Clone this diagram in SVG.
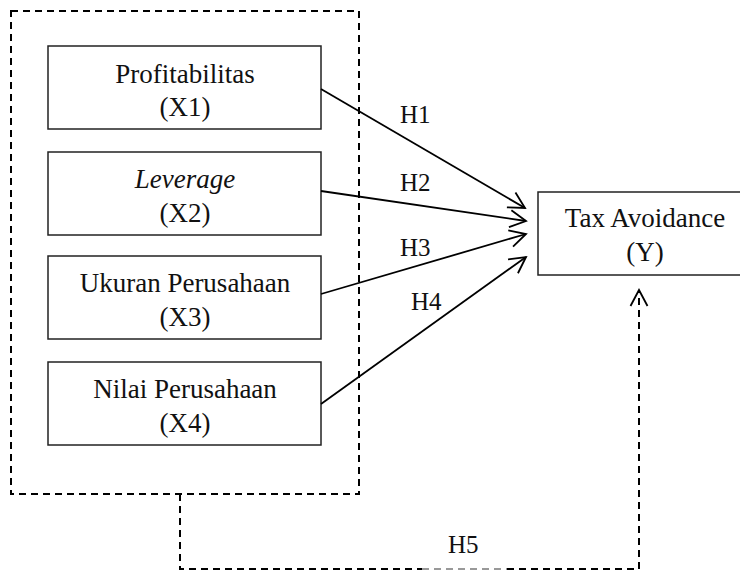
<svg xmlns="http://www.w3.org/2000/svg" width="740" height="574" viewBox="0 0 740 574">
<style>
.box{fill:#fff;stroke:#222;stroke-width:1.5}
.t{font-family:"Liberation Serif","Times New Roman",serif;font-size:27px;fill:#111;text-anchor:middle}
.lbl{font-family:"Liberation Serif","Times New Roman",serif;font-size:25px;fill:#111}
.arrow{fill:none;stroke:#000;stroke-width:1.8}
.dash{fill:none;stroke:#000;stroke-width:2;stroke-dasharray:7,5}
</style>
<defs>
<marker id="open" markerUnits="userSpaceOnUse" markerWidth="40" markerHeight="40" viewBox="-20 -20 40 40" refX="0" refY="0" orient="auto" overflow="visible">
<path d="M-16,-8.5 L0,0 L-16,8.5" fill="none" stroke="#000" stroke-width="1.8"/>
</marker>
</defs>
<g id="group-frame">
<rect x="11" y="11" width="348" height="483" class="dash"/>
</g>
<g id="node-x1">
<rect class="box" x="48" y="46" width="273" height="83"/>
<text class="t" x="185" y="83">Profitabilitas</text>
<text class="t" x="185" y="116">(X1)</text>
</g>
<g id="node-x2">
<rect class="box" x="48" y="152" width="273" height="83"/>
<text class="t" x="185" y="188" font-style="italic">Leverage</text>
<text class="t" x="185" y="222">(X2)</text>
</g>
<g id="node-x3">
<rect class="box" x="48" y="256" width="273" height="83"/>
<text class="t" x="185" y="292">Ukuran Perusahaan</text>
<text class="t" x="185" y="326">(X3)</text>
</g>
<g id="node-x4">
<rect class="box" x="48" y="362" width="273" height="83"/>
<text class="t" x="185" y="398">Nilai Perusahaan</text>
<text class="t" x="185" y="432">(X4)</text>
</g>
<g id="node-y">
<rect class="box" x="538" y="192" width="214" height="83"/>
<text class="t" x="645" y="227">Tax Avoidance</text>
<text class="t" x="645" y="261">(Y)</text>
</g>
<g id="connectors">
<line class="arrow" x1="321" y1="89" x2="525" y2="208" marker-end="url(#open)"/>
<line class="arrow" x1="321" y1="191" x2="526" y2="221" marker-end="url(#open)"/>
<line class="arrow" x1="321" y1="294" x2="526" y2="234" marker-end="url(#open)"/>
<line class="arrow" x1="321" y1="404" x2="526" y2="257" marker-end="url(#open)"/>
<path class="dash" d="M180,494 V569 H422"/>
<path d="M422,569 H507" fill="none" stroke="#999" stroke-width="2" stroke-dasharray="7,5"/>
<path class="dash" d="M507,569 H639 V290" marker-end="url(#open)"/>
<text class="lbl" x="400" y="123">H1</text>
<text class="lbl" x="400" y="191">H2</text>
<text class="lbl" x="400" y="256">H3</text>
<text class="lbl" x="411" y="310">H4</text>
<text class="lbl" x="448" y="553">H5</text>
</g>
</svg>
